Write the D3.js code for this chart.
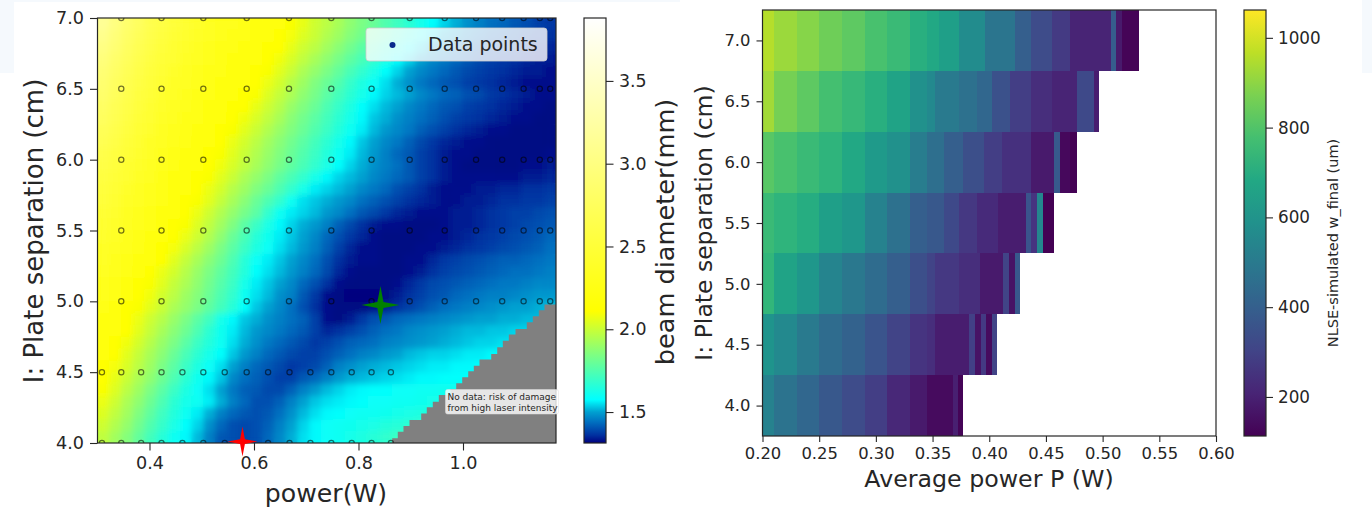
<!DOCTYPE html>
<html>
<head>
<meta charset="utf-8">
<script src="https://d3js.org/d3.v7.min.js"></script>
<style>
html,body{margin:0;padding:0;background:#fff;overflow:hidden}
text{font-family:"DejaVu Sans",sans-serif;fill:#262626}
</style>
</head>
<body>
<svg id="chart" width="1372" height="507"></svg>
<script>
// ---------- left panel data ----------
const xTicksLeft = [0.4, 0.6, 0.8, 1.0];
const yTicksShared = [4.0, 4.5, 5.0, 5.5, 6.0, 6.5, 7.0];
const cbarTicksLeft = [1.5, 2.0, 2.5, 3.0, 3.5];
const powerDomainLeft = [0.3005, 1.178];
const diameterDomain = [1.313, 3.88];
const diameterStops = [1.313, 1.36, 1.40, 1.44, 1.50, 1.575, 1.85, 2.11, 3.88];
const diameterColors = ["#00007f", "#0030a0", "#0050b0", "#0070c0", "#00a0d0", "#00ffff", "#80ff80", "#ffff00", "#ffffff"];

// beam diameter (mm), rows from top (7.0 cm) to bottom (4.0 cm)
const beamDiameter = [
[3.15,3.00,2.87,2.76,2.66,2.58,2.51,2.45,2.40,2.36,2.32,2.29,2.26,2.23,2.20,2.16,2.10,2.06,2.01,1.97,1.93,1.88,1.84,1.80,1.75,1.71,1.67,1.62,1.58,1.54,1.51,1.48,1.46,1.44,1.43,1.41,1.40,1.38,1.37],
[3.08,2.94,2.82,2.72,2.63,2.55,2.48,2.43,2.38,2.34,2.30,2.27,2.24,2.21,2.18,2.14,2.09,2.04,2.00,1.95,1.91,1.86,1.82,1.77,1.73,1.68,1.64,1.59,1.55,1.51,1.49,1.46,1.44,1.42,1.41,1.40,1.38,1.37,1.36],
[3.02,2.90,2.78,2.68,2.60,2.52,2.46,2.40,2.36,2.32,2.28,2.25,2.22,2.19,2.15,2.11,2.06,2.01,1.97,1.92,1.87,1.82,1.77,1.72,1.67,1.63,1.58,1.54,1.50,1.48,1.45,1.43,1.41,1.40,1.39,1.38,1.36,1.35,1.35],
[2.97,2.85,2.74,2.65,2.57,2.50,2.44,2.38,2.34,2.30,2.26,2.23,2.20,2.17,2.13,2.08,2.03,1.98,1.93,1.88,1.83,1.78,1.73,1.68,1.63,1.58,1.54,1.50,1.47,1.45,1.43,1.41,1.39,1.38,1.37,1.36,1.35,1.34,1.34],
[2.92,2.81,2.71,2.62,2.54,2.47,2.41,2.36,2.32,2.28,2.24,2.21,2.18,2.15,2.10,2.05,2.00,1.94,1.89,1.84,1.79,1.73,1.68,1.63,1.58,1.54,1.50,1.47,1.45,1.43,1.41,1.39,1.38,1.37,1.36,1.35,1.34,1.34,1.33],
[2.88,2.77,2.67,2.59,2.51,2.45,2.39,2.34,2.30,2.26,2.22,2.19,2.16,2.12,2.07,2.02,1.96,1.91,1.85,1.80,1.75,1.69,1.64,1.59,1.55,1.51,1.48,1.45,1.43,1.41,1.40,1.38,1.37,1.36,1.35,1.34,1.33,1.33,1.33],
[2.85,2.74,2.65,2.56,2.49,2.42,2.37,2.32,2.28,2.24,2.20,2.17,2.14,2.10,2.04,1.99,1.94,1.88,1.83,1.77,1.72,1.67,1.62,1.57,1.54,1.52,1.50,1.47,1.45,1.43,1.42,1.40,1.39,1.37,1.36,1.35,1.34,1.33,1.33],
[2.80,2.70,2.61,2.53,2.46,2.40,2.35,2.30,2.26,2.22,2.18,2.15,2.11,2.06,2.01,1.96,1.90,1.85,1.80,1.74,1.69,1.64,1.58,1.55,1.52,1.50,1.47,1.45,1.43,1.41,1.40,1.38,1.37,1.36,1.35,1.34,1.33,1.33,1.32],
[2.76,2.67,2.58,2.50,2.44,2.38,2.33,2.28,2.24,2.20,2.16,2.13,2.08,2.03,1.98,1.93,1.87,1.82,1.77,1.72,1.67,1.62,1.57,1.53,1.51,1.48,1.46,1.44,1.42,1.40,1.38,1.37,1.36,1.35,1.34,1.33,1.33,1.32,1.32],
[2.72,2.63,2.55,2.48,2.42,2.36,2.31,2.26,2.22,2.18,2.14,2.10,2.05,2.00,1.95,1.90,1.85,1.80,1.75,1.70,1.65,1.60,1.56,1.52,1.49,1.47,1.45,1.42,1.40,1.38,1.36,1.35,1.34,1.33,1.33,1.32,1.32,1.32,1.32],
[2.68,2.60,2.52,2.45,2.39,2.34,2.29,2.24,2.20,2.16,2.12,2.07,2.02,1.97,1.92,1.87,1.82,1.77,1.72,1.67,1.62,1.57,1.53,1.50,1.47,1.45,1.42,1.39,1.37,1.35,1.34,1.33,1.33,1.32,1.32,1.32,1.32,1.32,1.32],
[2.64,2.56,2.49,2.43,2.37,2.32,2.27,2.22,2.18,2.14,2.10,2.05,2.00,1.95,1.90,1.85,1.80,1.75,1.70,1.65,1.60,1.56,1.52,1.49,1.46,1.43,1.41,1.38,1.36,1.34,1.33,1.33,1.32,1.32,1.32,1.32,1.32,1.32,1.33],
[2.60,2.53,2.46,2.40,2.35,2.30,2.25,2.20,2.16,2.13,2.08,2.03,1.98,1.93,1.88,1.83,1.78,1.73,1.68,1.63,1.58,1.54,1.51,1.48,1.46,1.44,1.41,1.38,1.36,1.34,1.33,1.32,1.32,1.32,1.32,1.32,1.33,1.33,1.34],
[2.57,2.50,2.44,2.38,2.33,2.28,2.23,2.18,2.14,2.10,2.05,2.00,1.94,1.89,1.84,1.78,1.73,1.68,1.62,1.57,1.54,1.52,1.50,1.47,1.45,1.43,1.41,1.38,1.36,1.34,1.33,1.33,1.33,1.33,1.33,1.33,1.34,1.34,1.35],
[2.54,2.47,2.41,2.36,2.31,2.26,2.21,2.17,2.12,2.07,2.02,1.96,1.91,1.85,1.80,1.74,1.68,1.62,1.56,1.54,1.52,1.50,1.47,1.45,1.43,1.40,1.38,1.36,1.34,1.33,1.33,1.33,1.34,1.34,1.35,1.35,1.36,1.36,1.37],
[2.51,2.45,2.39,2.34,2.29,2.24,2.19,2.15,2.10,2.05,1.99,1.93,1.87,1.80,1.74,1.68,1.60,1.55,1.53,1.51,1.49,1.47,1.44,1.42,1.40,1.38,1.36,1.35,1.34,1.33,1.33,1.34,1.34,1.35,1.36,1.36,1.37,1.37,1.38],
[2.48,2.42,2.36,2.31,2.26,2.21,2.17,2.13,2.07,2.01,1.95,1.89,1.83,1.77,1.68,1.60,1.56,1.54,1.52,1.49,1.47,1.44,1.41,1.39,1.37,1.35,1.34,1.33,1.33,1.33,1.34,1.34,1.35,1.36,1.37,1.38,1.38,1.39,1.40],
[2.45,2.40,2.34,2.29,2.25,2.20,2.15,2.10,2.04,1.98,1.92,1.85,1.77,1.70,1.63,1.57,1.54,1.51,1.49,1.46,1.42,1.39,1.36,1.34,1.33,1.33,1.32,1.32,1.32,1.33,1.34,1.34,1.35,1.36,1.37,1.38,1.39,1.40,1.41],
[2.42,2.37,2.32,2.27,2.23,2.18,2.13,2.07,2.01,1.95,1.88,1.80,1.73,1.66,1.61,1.56,1.53,1.50,1.47,1.43,1.40,1.37,1.35,1.33,1.32,1.32,1.32,1.32,1.33,1.33,1.34,1.35,1.36,1.37,1.38,1.39,1.40,1.41,1.43],
[2.39,2.34,2.29,2.25,2.20,2.15,2.09,2.03,1.97,1.91,1.84,1.77,1.70,1.64,1.59,1.55,1.52,1.49,1.46,1.42,1.38,1.35,1.33,1.33,1.32,1.32,1.32,1.33,1.33,1.34,1.35,1.36,1.37,1.38,1.39,1.40,1.41,1.42,1.44],
[2.37,2.32,2.27,2.22,2.17,2.11,2.05,1.99,1.93,1.87,1.81,1.74,1.66,1.59,1.56,1.53,1.50,1.47,1.44,1.40,1.36,1.34,1.33,1.33,1.32,1.32,1.33,1.33,1.35,1.37,1.38,1.39,1.40,1.41,1.42,1.42,1.43,1.44,1.45],
[2.34,2.29,2.24,2.19,2.13,2.07,2.02,1.96,1.90,1.84,1.78,1.72,1.65,1.58,1.55,1.52,1.49,1.46,1.43,1.39,1.35,1.33,1.32,1.32,1.32,1.32,1.33,1.34,1.36,1.38,1.39,1.40,1.41,1.42,1.43,1.44,1.44,1.45,1.46],
[2.31,2.26,2.21,2.15,2.10,2.05,1.99,1.94,1.88,1.82,1.76,1.70,1.62,1.56,1.53,1.50,1.47,1.43,1.40,1.36,1.33,1.32,1.32,1.32,1.32,1.33,1.35,1.37,1.39,1.40,1.41,1.42,1.43,1.44,1.45,1.45,1.46,1.47,1.47],
[2.29,2.24,2.18,2.13,2.08,2.02,1.97,1.91,1.86,1.80,1.74,1.68,1.60,1.55,1.52,1.48,1.46,1.41,1.37,1.33,1.32,1.31,1.31,1.31,1.32,1.34,1.36,1.38,1.40,1.41,1.43,1.44,1.45,1.46,1.46,1.47,1.48,1.49,1.49],
[2.26,2.21,2.15,2.10,2.05,2.00,1.94,1.89,1.84,1.78,1.72,1.66,1.58,1.53,1.50,1.47,1.44,1.40,1.36,1.33,1.32,1.32,1.32,1.33,1.34,1.36,1.38,1.40,1.42,1.44,1.45,1.46,1.47,1.48,1.49,1.50,1.50,1.51,1.52],
[2.23,2.18,2.13,2.07,2.01,1.96,1.90,1.84,1.77,1.71,1.62,1.57,1.53,1.51,1.48,1.46,1.44,1.42,1.38,1.33,1.32,1.34,1.37,1.40,1.41,1.43,1.44,1.45,1.46,1.47,1.48,1.49,1.50,1.50,1.51,1.51,1.52,1.52,1.52],
[2.20,2.16,2.11,2.05,1.99,1.93,1.87,1.81,1.74,1.67,1.61,1.56,1.52,1.49,1.47,1.45,1.43,1.41,1.38,1.35,1.36,1.38,1.40,1.42,1.44,1.45,1.47,1.48,1.49,1.50,1.51,1.52,1.52,1.53,1.53,1.54,1.54,1.54,1.54],
[2.18,2.13,2.08,2.02,1.96,1.90,1.84,1.77,1.70,1.65,1.60,1.55,1.51,1.48,1.45,1.43,1.41,1.39,1.37,1.38,1.40,1.42,1.43,1.44,1.46,1.47,1.48,1.49,1.50,1.51,1.52,1.53,1.54,1.54,1.55,1.55,1.55,1.55,1.55],
[2.16,2.11,2.05,1.99,1.93,1.87,1.80,1.73,1.67,1.62,1.58,1.53,1.49,1.46,1.43,1.41,1.39,1.38,1.38,1.40,1.42,1.44,1.46,1.47,1.49,1.50,1.52,1.53,1.54,1.54,1.55,1.56,1.56,1.57,1.57,1.57],
[2.14,2.09,2.03,1.97,1.91,1.84,1.77,1.70,1.64,1.59,1.55,1.50,1.46,1.43,1.41,1.39,1.37,1.38,1.39,1.42,1.46,1.48,1.50,1.51,1.52,1.53,1.54,1.55,1.56,1.56,1.57,1.57,1.58,1.58],
[2.12,2.06,2.00,1.94,1.88,1.81,1.74,1.67,1.61,1.57,1.53,1.47,1.44,1.42,1.40,1.38,1.38,1.41,1.43,1.46,1.49,1.51,1.52,1.53,1.54,1.55,1.56,1.57,1.57,1.58,1.58,1.58,1.59],
[2.10,2.04,1.97,1.91,1.84,1.77,1.70,1.64,1.59,1.55,1.50,1.45,1.42,1.41,1.39,1.39,1.42,1.46,1.49,1.52,1.54,1.56,1.57,1.58,1.58,1.59,1.59,1.60,1.60,1.61,1.61,1.62],
[2.07,2.01,1.94,1.88,1.81,1.74,1.67,1.62,1.60,1.56,1.51,1.46,1.43,1.40,1.40,1.42,1.46,1.50,1.53,1.55,1.56,1.57,1.58,1.59,1.59,1.60,1.60,1.61,1.62,1.62,1.63],
[2.04,1.98,1.92,1.85,1.78,1.71,1.65,1.60,1.56,1.51,1.46,1.43,1.41,1.40,1.41,1.44,1.48,1.52,1.55,1.57,1.58,1.59,1.60,1.60,1.61,1.62,1.63,1.64,1.65],
[2.01,1.95,1.89,1.82,1.75,1.69,1.63,1.58,1.54,1.48,1.43,1.40,1.39,1.40,1.42,1.46,1.50,1.54,1.57,1.59,1.60,1.61,1.62,1.63,1.65,1.66,1.67,1.68],
[1.98,1.92,1.86,1.79,1.72,1.66,1.60,1.57,1.52,1.46,1.41,1.40,1.39,1.40,1.43,1.47,1.51,1.55,1.57,1.59,1.60,1.62,1.64,1.66,1.68,1.70,1.72]
];

const scanPowersLow = [0.309,0.346,0.384,0.423,0.463,0.503,0.544,0.586,0.627,0.668,0.708,0.748,0.787,0.825,0.862];
const scanPowersHigh = [0.346,0.423,0.503,0.586,0.667,0.748,0.825,0.898,0.965,1.025,1.075,1.116,1.147,1.167];
const scanSepsLow = [4.0, 4.5];
const scanSepsHigh = [5.0, 5.5, 6.0, 6.5, 7.0];

// upper edge of the "no data" area: [power (W), separation (cm)]
const noDataEdge = [[0.8645,4.033],[0.8752,4.080],[0.8861,4.120],[0.8976,4.162],[0.9200,4.209],[0.9307,4.252],[0.9422,4.291],[0.9537,4.339],[0.9761,4.380],[0.9870,4.421],[0.9985,4.464],[1.0100,4.506],[1.0207,4.546],[1.0316,4.589],[1.0540,4.629],[1.0655,4.676],[1.0762,4.721],[1.0877,4.766],[1.1005,4.805],[1.1221,4.852],[1.1336,4.895],[1.1451,4.937],[1.1560,4.978],[1.178,4.978]];
const noDataNote = ["No data: risk of damage", "from high laser intensity"];

const bestSpots = [
  {power: 0.578, sep: 4.01, color: "#ff0000", rx: 15, ry: 15},
  {power: 0.842, sep: 4.974, color: "#008000", rx: 19, ry: 19}
];

// ---------- right panel data ----------
const separations = [7.0, 6.5, 6.0, 5.5, 5.0, 4.5, 4.0];
const powerEdges70 = [.20,.21,.23,.25,.27,.29,.31,.33,.345,.356,.373,.396,.423,.437,.455,.471,.507,.512,.517,.532];
const wFinal70 = [958,920,891,853,825,787,758,711,682,644,569,483,398,331,274,208,388,179,122];
const powerEdges65 = [.20,.21,.23,.25,.27,.29,.31,.33,.345,.352,.373,.389,.402,.418,.437,.455,.477,.492,.497];
const wFinal65 = [929,863,825,777,749,711,663,588,559,502,464,426,350,284,236,208,322,189];
const powerEdges60 = [.20,.21,.23,.25,.27,.29,.31,.33,.345,.36,.377,.395,.411,.437,.457,.462,.471,.477];
const wFinal60 = [815,787,758,730,682,625,588,512,455,398,341,284,246,179,379,132,113];
const powerEdges55 = [.20,.21,.23,.25,.27,.29,.31,.33,.345,.36,.373,.389,.408,.432,.437,.442,.447,.457];
const wFinal55 = [758,730,701,644,616,531,464,398,369,322,265,227,189,360,255,550,113];
const powerEdges50 = [.20,.21,.23,.25,.27,.29,.31,.33,.345,.352,.373,.392,.412,.417,.423,.427];
const wFinal50 = [739,663,616,540,493,445,398,341,303,265,236,179,303,160,369];
const powerEdges45 = [.20,.21,.23,.25,.27,.29,.31,.33,.345,.352,.382,.387,.393,.397,.402,.407];
const wFinal45 = [606,559,502,445,407,360,303,255,236,189,293,160,274,141,303];
const powerEdges40 = [.20,.21,.23,.25,.27,.29,.31,.33,.345,.368,.3725,.377];
const wFinal40 = [531,474,426,369,331,284,217,179,141,198,122];
const xTicksRight = [.20,.25,.30,.35,.40,.45,.50,.55,.60];
const cbarTicksRight = [200,400,600,800,1000];
const wDomain = [113, 1062];

// ---------- drawing ----------
const svg = d3.select("#chart");
const defs = svg.append("defs");
const ink = "#262626", spine = "#262626";

// pale page corners visible in the source capture
svg.append("g").attr("fill", "#f5f9fd").selectAll("rect")
  .data([[0,0,14,73],[0,0,680,2],[1362,0,10,73]]).join("rect")
  .attr("x", d=>d[0]).attr("y", d=>d[1]).attr("width", d=>d[2]).attr("height", d=>d[3]);

const L = {x0: 97.5, x1: 556, y0: 443, y1: 18};
const R = {x0: 762.5, x1: 1216, y0: 436, y1: 10};

const xL = d3.scaleLinear().domain(powerDomainLeft).range([L.x0, L.x1]);
const yL = d3.scaleLinear().domain([4, 7]).range([L.y0, L.y1]);
const diamColor = d3.scaleLinear().domain(diameterStops).range(diameterColors).clamp(true);

defs.append("clipPath").attr("id", "clipL").append("rect")
  .attr("x", L.x0).attr("y", L.y1).attr("width", L.x1 - L.x0).attr("height", L.y0 - L.y1);

const soft = defs.append("filter").attr("id", "soft").attr("filterUnits", "userSpaceOnUse")
  .attr("x", 80).attr("y", 0).attr("width", 500).attr("height", 460);
soft.append("feGaussianBlur").attr("in", "SourceGraphic").attr("stdDeviation", 3.4).attr("result", "b");
const mg = soft.append("feMerge");
mg.append("feMergeNode").attr("in", "SourceGraphic");
mg.append("feMergeNode").attr("in", "b");

const colBand = d3.scaleBand().domain(d3.range(beamDiameter[0].length)).range([L.x0, L.x1]);
const rowBand = d3.scaleBand().domain(d3.range(beamDiameter.length)).range([L.y1, L.y0]);

const plotL = svg.append("g").attr("clip-path", "url(#clipL)");
plotL.append("g").attr("filter", "url(#soft)")
  .selectAll("g").data(beamDiameter).join("g")
  .attr("transform", (d,i)=>`translate(0,${rowBand(i)})`)
  .selectAll("rect").data(d=>d).join("rect")
  .attr("x", (d,i)=>colBand(i)).attr("width", colBand.bandwidth()+0.5)
  .attr("height", rowBand.bandwidth()+0.5).attr("fill", d=>diamColor(d));

// no-data staircase
const stair = d3.line().x(d=>xL(d[0])).y(d=>yL(d[1])).curve(d3.curveStepAfter);
plotL.append("path").attr("d", stair(noDataEdge) + "L" + xL(1.178) + "," + yL(4) + "L" + xL(0.8645) + "," + yL(4) + "Z")
  .attr("fill", "#808080");

// scan points
const scanPts = d3.cross(scanSepsLow, scanPowersLow, (s,p)=>({p,s}))
  .concat(d3.cross(scanSepsHigh, scanPowersHigh, (s,p)=>({p,s})));
plotL.append("g").selectAll("circle").data(scanPts).join("circle")
  .attr("cx", d=>xL(d.p)).attr("cy", d=>yL(d.s)).attr("r", 2.6)
  .attr("fill", "none").attr("stroke", "#000").attr("stroke-opacity", 0.55).attr("stroke-width", 1.25);

function frame(b){
  svg.append("rect").attr("x", b.x0).attr("y", b.y1).attr("width", b.x1-b.x0).attr("height", b.y0-b.y1)
    .attr("fill", "none").attr("stroke", spine).attr("stroke-width", 1.2);
}
function styleAxis(g, size){
  g.select(".domain").remove();
  g.selectAll(".tick line").attr("stroke", spine).attr("stroke-width", 1.1);
  g.selectAll(".tick text").attr("font-size", size).attr("fill", ink).style("font-family", '"DejaVu Sans"');
}
frame(L);

svg.append("g").attr("transform", `translate(0,${L.y0})`)
  .call(d3.axisBottom(xL).tickValues(xTicksLeft).tickFormat(d3.format(".1f")).tickSize(7.5).tickPadding(6))
  .call(styleAxis, 17.6);
svg.append("g").attr("transform", `translate(${L.x0},0)`)
  .call(d3.axisLeft(yL).tickValues(yTicksShared).tickFormat(d3.format(".1f")).tickSize(7.5).tickPadding(6))
  .call(styleAxis, 17.6);

// stars
const star = (r)=> {
  const w = r*0.16;
  return `M0,${-r}L${w},${-w}L${r},0L${w},${w}L0,${r}L${-w},${w}L${-r},0L${-w},${-w}Z`;
};
svg.append("g").selectAll("path").data(bestSpots).join("path")
  .attr("transform", d=>`translate(${xL(d.power)},${yL(d.sep)})`)
  .attr("d", d=>star(d.rx)).attr("fill", d=>d.color);

// legend
svg.append("rect").attr("x", 366).attr("y", 28).attr("width", 181).attr("height", 33).attr("rx", 3)
  .attr("fill", "#fff").attr("fill-opacity", 0.8).attr("stroke", "#ccc").attr("stroke-opacity", 0.8);
svg.append("circle").attr("cx", 392.5).attr("cy", 45).attr("r", 3).attr("fill", "#0a2a8c");
svg.append("text").attr("x", 428).attr("y", 51).attr("font-size", 19).text("Data points");

// note
svg.append("rect").attr("x", 445.5).attr("y", 389.5).attr("width", 113).attr("height", 24.5).attr("rx", 2)
  .attr("fill", "#fff").attr("fill-opacity", 0.8).attr("stroke", "#ddd").attr("stroke-opacity", 0.5);
svg.append("g").selectAll("text").data(noDataNote).join("text")
  .attr("x", 447.5).attr("y", (d,i)=>400 + i*10.6).attr("font-size", 9).text(d=>d);

// left labels
svg.append("text").attr("x", 326).attr("y", 502).attr("text-anchor", "middle").attr("font-size", 25.2).text("power(W)");
svg.append("text").attr("transform", "translate(43,231) rotate(-90)").attr("text-anchor", "middle").attr("font-size", 26).text("I: Plate separation (cm)");

// left colourbar
const CL = {x0: 584, x1: 606, y0: 443, y1: 18};
const yCL = d3.scaleLinear().domain(diameterDomain).range([CL.y0, CL.y1]);
const gradL = defs.append("linearGradient").attr("id", "gradL").attr("x1", 0).attr("x2", 0).attr("y1", 1).attr("y2", 0);
gradL.selectAll("stop").data(diameterStops).join("stop")
  .attr("offset", d=>(d-diameterDomain[0])/(diameterDomain[1]-diameterDomain[0]))
  .attr("stop-color", d=>diamColor(d));
svg.append("rect").attr("x", CL.x0).attr("y", CL.y1).attr("width", CL.x1-CL.x0).attr("height", CL.y0-CL.y1).attr("fill", "url(#gradL)");
frame(CL);
svg.append("g").attr("transform", `translate(${CL.x1},0)`)
  .call(d3.axisRight(yCL).tickValues(cbarTicksLeft).tickFormat(d3.format(".1f")).tickSize(7.5).tickPadding(5.5))
  .call(styleAxis, 17.4);
svg.append("text").attr("transform", "translate(674,232) rotate(-90)").attr("text-anchor", "middle").attr("font-size", 25.6).text("beam diameter(mm)");

// right panel
const xR = d3.scaleLinear().domain([0.2, 0.6]).range([R.x0, R.x1]);
const yR = d3.scaleLinear().domain([3.75, 7.25]).range([R.y0, R.y1]);
const wColor = d3.scaleSequential(d3.interpolateViridis).domain(wDomain);
const stripEdges = [powerEdges70, powerEdges65, powerEdges60, powerEdges55, powerEdges50, powerEdges45, powerEdges40];
const stripValues = [wFinal70, wFinal65, wFinal60, wFinal55, wFinal50, wFinal45, wFinal40];

svg.append("g").attr("shape-rendering", "crispEdges").selectAll("g").data(separations).join("g")
  .each(function(sep, i){
    d3.select(this).selectAll("rect").data(stripValues[i]).join("rect")
      .attr("x", (d,j)=>xR(stripEdges[i][j]))
      .attr("width", (d,j)=>xR(stripEdges[i][j+1]) - xR(stripEdges[i][j]))
      .attr("y", yR(sep + 0.25))
      .attr("height", yR(sep - 0.25) - yR(sep + 0.25))
      .attr("fill", d=>wColor(d));
  });
frame(R);
svg.append("g").attr("transform", `translate(0,${R.y0})`)
  .call(d3.axisBottom(xR).tickValues(xTicksRight).tickFormat(d3.format(".2f")).tickSize(6).tickPadding(5))
  .call(styleAxis, 16.4);
svg.append("g").attr("transform", `translate(${R.x0},0)`)
  .call(d3.axisLeft(yR).tickValues(yTicksShared).tickFormat(d3.format(".1f")).tickSize(6).tickPadding(6))
  .call(styleAxis, 16.4);
svg.append("text").attr("x", 989).attr("y", 487).attr("text-anchor", "middle").attr("font-size", 23.7).text("Average power P (W)");
svg.append("text").attr("transform", "translate(712,223) rotate(-90)").attr("text-anchor", "middle").attr("font-size", 23.5).text("I: Plate separation (cm)");

// right colourbar
const CR = {x0: 1244, x1: 1266, y0: 436, y1: 10};
const yCR = d3.scaleLinear().domain(wDomain).range([CR.y0, CR.y1]);
const gradR = defs.append("linearGradient").attr("id", "gradR").attr("x1", 0).attr("x2", 0).attr("y1", 1).attr("y2", 0);
gradR.selectAll("stop").data(d3.range(0, 1.01, 0.1)).join("stop")
  .attr("offset", d=>d).attr("stop-color", d=>d3.interpolateViridis(d));
svg.append("rect").attr("x", CR.x0).attr("y", CR.y1).attr("width", CR.x1-CR.x0).attr("height", CR.y0-CR.y1).attr("fill", "url(#gradR)");
frame(CR);
svg.append("g").attr("transform", `translate(${CR.x1},0)`)
  .call(d3.axisRight(yCR).tickValues(cbarTicksRight).tickFormat(d3.format("d")).tickSize(7).tickPadding(5))
  .call(styleAxis, 16.8);
svg.append("text").attr("transform", "translate(1338,243) rotate(-90)").attr("text-anchor", "middle").attr("font-size", 14.5).text("NLSE-simulated w_final (um)");
</script>
</body>
</html>
